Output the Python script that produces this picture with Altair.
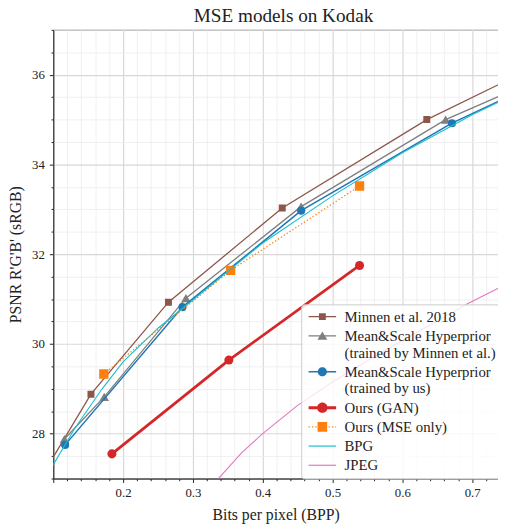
import altair as alt
import pandas as pd

# ---------------- data ----------------
series_names = [
    "Minnen et al. 2018",
    "Mean&Scale Hyperprior|(trained by Minnen et al.)",
    "Mean&Scale Hyperprior|(trained by us)",
    "Ours (GAN)",
    "Ours (MSE only)",
    "BPG",
    "JPEG",
]
series_colors = ["#8c564b", "#7f7f7f", "#1f77b4", "#d62728", "#ff7f0e", "#17becf", "#e377c2"]

minnen_bpp = [0.080, 0.154, 0.265, 0.428, 0.635, 0.850]
minnen_psnr = [26.96, 28.88, 30.93, 33.03, 35.00, 36.63]

ms_minnen_bpp = [0.116, 0.173, 0.290, 0.455, 0.662, 0.850]
ms_minnen_psnr = [27.88, 28.82, 31.02, 33.06, 35.00, 36.28]

ms_us_bpp = [0.117, 0.285, 0.455, 0.671, 0.850]
ms_us_psnr = [27.75, 30.82, 32.97, 34.92, 36.23]

gan_bpp = [0.184, 0.3515, 0.5387]
gan_psnr = [27.55, 29.64, 31.75]

mse_bpp = [0.1724, 0.354, 0.5387]
mse_psnr = [29.33, 31.64, 33.52]

bpg_bpp = [0.08, 0.10, 0.13, 0.17, 0.20, 0.25, 0.30, 0.40, 0.50, 0.60, 0.70, 0.80]
bpg_psnr = [26.75, 27.31, 28.10, 29.00, 29.60, 30.35, 30.98, 32.25, 33.30, 34.26, 35.11, 35.85]

jpeg_bpp = [0.300, 0.3365, 0.370, 0.400, 0.450, 0.500, 0.560, 0.620, 0.694, 0.760]
jpeg_psnr = [26.35, 27.00, 27.58, 28.00, 28.63, 29.15, 29.72, 30.25, 30.90, 31.42]

x_ticks = [round(0.10 + 0.02 * i, 2) for i in range(33)]
y_ticks = [27 + 0.5 * i for i in range(21)]

# ---------------- table ----------------
rows = []
for name, bx, py in [
    (series_names[0], minnen_bpp, minnen_psnr),
    (series_names[1], ms_minnen_bpp, ms_minnen_psnr),
    (series_names[2], ms_us_bpp, ms_us_psnr),
    (series_names[3], gan_bpp, gan_psnr),
    (series_names[4], mse_bpp, mse_psnr),
    (series_names[5], bpg_bpp, bpg_psnr),
    (series_names[6], jpeg_bpp, jpeg_psnr),
]:
    for a, b in zip(bx, py):
        rows.append({"series": name, "bpp": a, "psnr": b})
df = pd.DataFrame(rows)

FONT = "Liberation Serif"
INK = "#222222"

major_x = "abs(datum.value*10 - round(datum.value*10)) < 0.001"
major_y = "datum.value % 2 == 0"

x_axis = alt.Axis(
    values=x_ticks,
    labelExpr=f"({major_x}) && datum.value > 0.15 ? format(datum.value, '.1f') : ''",
    grid=True,
    gridColor={"condition": {"test": major_x, "value": "#d8d8d8"}, "value": "#eeeeee"},
    gridWidth={"condition": {"test": major_x, "value": 1.2}, "value": 0.9},
    tickSize={"condition": {"test": major_x, "value": 4}, "value": 2.2},
    tickColor=INK, tickWidth=1, domainColor=INK, domainWidth=1,
    labelFont=FONT, labelFontSize=13, labelColor=INK, labelPadding=4,
    labelOverlap=False, labelFlush=False,
    title="Bits per pixel (BPP)", titleFont=FONT, titleFontSize=16,
    titleFontWeight="normal", titleColor=INK, titlePadding=8,
)
y_axis = alt.Axis(
    values=y_ticks,
    labelExpr=f"({major_y}) && datum.value > 27.5 ? format(datum.value, 'd') : ''",
    grid=True,
    gridColor={"condition": {"test": major_y, "value": "#d8d8d8"}, "value": "#eeeeee"},
    gridWidth={"condition": {"test": major_y, "value": 1.2}, "value": 0.9},
    tickSize={"condition": {"test": major_y, "value": 4}, "value": 2.2},
    tickColor=INK, tickWidth=1, domainColor=INK, domainWidth=1,
    labelFont=FONT, labelFontSize=13, labelColor=INK, labelPadding=5,
    labelOverlap=False, labelFlush=False,
    title="PSNR R'G'B' (sRGB)", titleFont=FONT, titleFontSize=16,
    titleFontWeight="normal", titleColor=INK, titlePadding=8,
)

x_enc = alt.X("bpp:Q", scale=alt.Scale(domain=[0.1, 0.737], nice=False, zero=False), axis=x_axis)
y_enc = alt.Y("psnr:Q", scale=alt.Scale(domain=[27, 37], nice=False, zero=False), axis=y_axis)
color_scale = alt.Scale(domain=series_names, range=series_colors)

base = alt.Chart(df)


def sel(i):
    return base.transform_filter(alt.datum.series == series_names[i])


layers = []
line_styles = [
    dict(strokeWidth=1.3),
    dict(strokeWidth=1.3),
    dict(strokeWidth=1.5),
    dict(strokeWidth=2.8),
    dict(strokeWidth=1.3, strokeDash=[1.3, 2.2]),
    dict(strokeWidth=1.1),
    dict(strokeWidth=1.1),
]
point_marks = {
    0: lambda c: c.mark_square(clip=True, size=50, opacity=1),
    1: lambda c: c.mark_point(clip=True, shape="triangle-up", filled=True, size=95, opacity=1),
    2: lambda c: c.mark_circle(clip=True, size=68, opacity=1),
    3: lambda c: c.mark_circle(clip=True, size=85, opacity=1),
    4: lambda c: c.mark_square(clip=True, size=90, opacity=1),
}
for i in range(7):
    col = alt.value(series_colors[i])
    layers.append(sel(i).mark_line(clip=True, **line_styles[i]).encode(x=x_enc, y=y_enc, color=col))
    if i in point_marks:
        layers.append(point_marks[i](sel(i)).encode(x=x_enc, y=y_enc, color=col))


# ---------------- legend symbols (custom paths: line + marker) ----------------
def f(v):
    return f"{v:.3f}"


CX = 1.8


def line_path(h, x0=-1.0, x1=4.6):
    return f"M{f(x0)},{f(-h)}H{f(x1)}V{f(h)}H{f(x0)}Z"


def square_path(s):
    return f"M{f(CX - s)},{f(-s)}H{f(CX + s)}V{f(s)}H{f(CX - s)}Z"


def circle_path(r):
    return (f"M{f(CX + r)},0A{f(r)},{f(r)} 0 1,1 {f(CX - r)},0"
            f"A{f(r)},{f(r)} 0 1,1 {f(CX + r)},0Z")


def tri_path(w, top, bot):
    return f"M{f(CX)},{f(-top)}L{f(CX + w)},{f(bot)}L{f(CX - w)},{f(bot)}Z"


def dotted_path(h):
    parts = []
    x = -1.0
    while x < 4.6:
        parts.append(line_path(h, x, min(x + 0.26, 4.6)))
        x += 0.68
    return "".join(parts)


legend_shapes = [
    line_path(0.13) + square_path(0.7),
    line_path(0.13) + tri_path(1.0, 0.9, 0.8),
    line_path(0.15) + circle_path(0.93),
    line_path(0.3) + circle_path(1.05),
    dotted_path(0.13) + square_path(0.98),
    line_path(0.12),
    line_path(0.12),
]

legend = alt.Legend(
    title=None, orient="none", legendX=252, legendY=279, direction="vertical",
    labelExpr="split(datum.label, '|')",
    labelFont=FONT, labelFontSize=15, labelColor=INK, labelLimit=400, labelOffset=24,
    symbolSize=100, symbolStrokeWidth=0, symbolOpacity=1,
    fillColor="rgba(255,255,255,0.8)", strokeColor="#cccccc", cornerRadius=3,
    padding=5, rowPadding=3.5,
)
legend_layer = base.transform_filter("false").mark_point(
    filled=True, size=100, opacity=1, strokeWidth=0
).encode(
    x=x_enc, y=y_enc,
    color=alt.Color("series:N", scale=color_scale, legend=legend),
    shape=alt.Shape("series:N", scale=alt.Scale(domain=series_names, range=legend_shapes), legend=legend),
)
layers.append(legend_layer)

chart = alt.layer(*layers).properties(
    width=452, height=456,
    title=alt.TitleParams("MSE models on Kodak", font=FONT, fontSize=19.5, fontWeight="normal",
                          color=INK, anchor="middle", offset=-3, dx=8),
    autosize=alt.AutoSizeParams(type="none"),
    padding={"left": 46, "top": 18, "right": 0, "bottom": 43},
).configure_view(stroke=INK, strokeWidth=1)

chart.save("out.html", embed_options={"renderer": "svg", "actions": False})
